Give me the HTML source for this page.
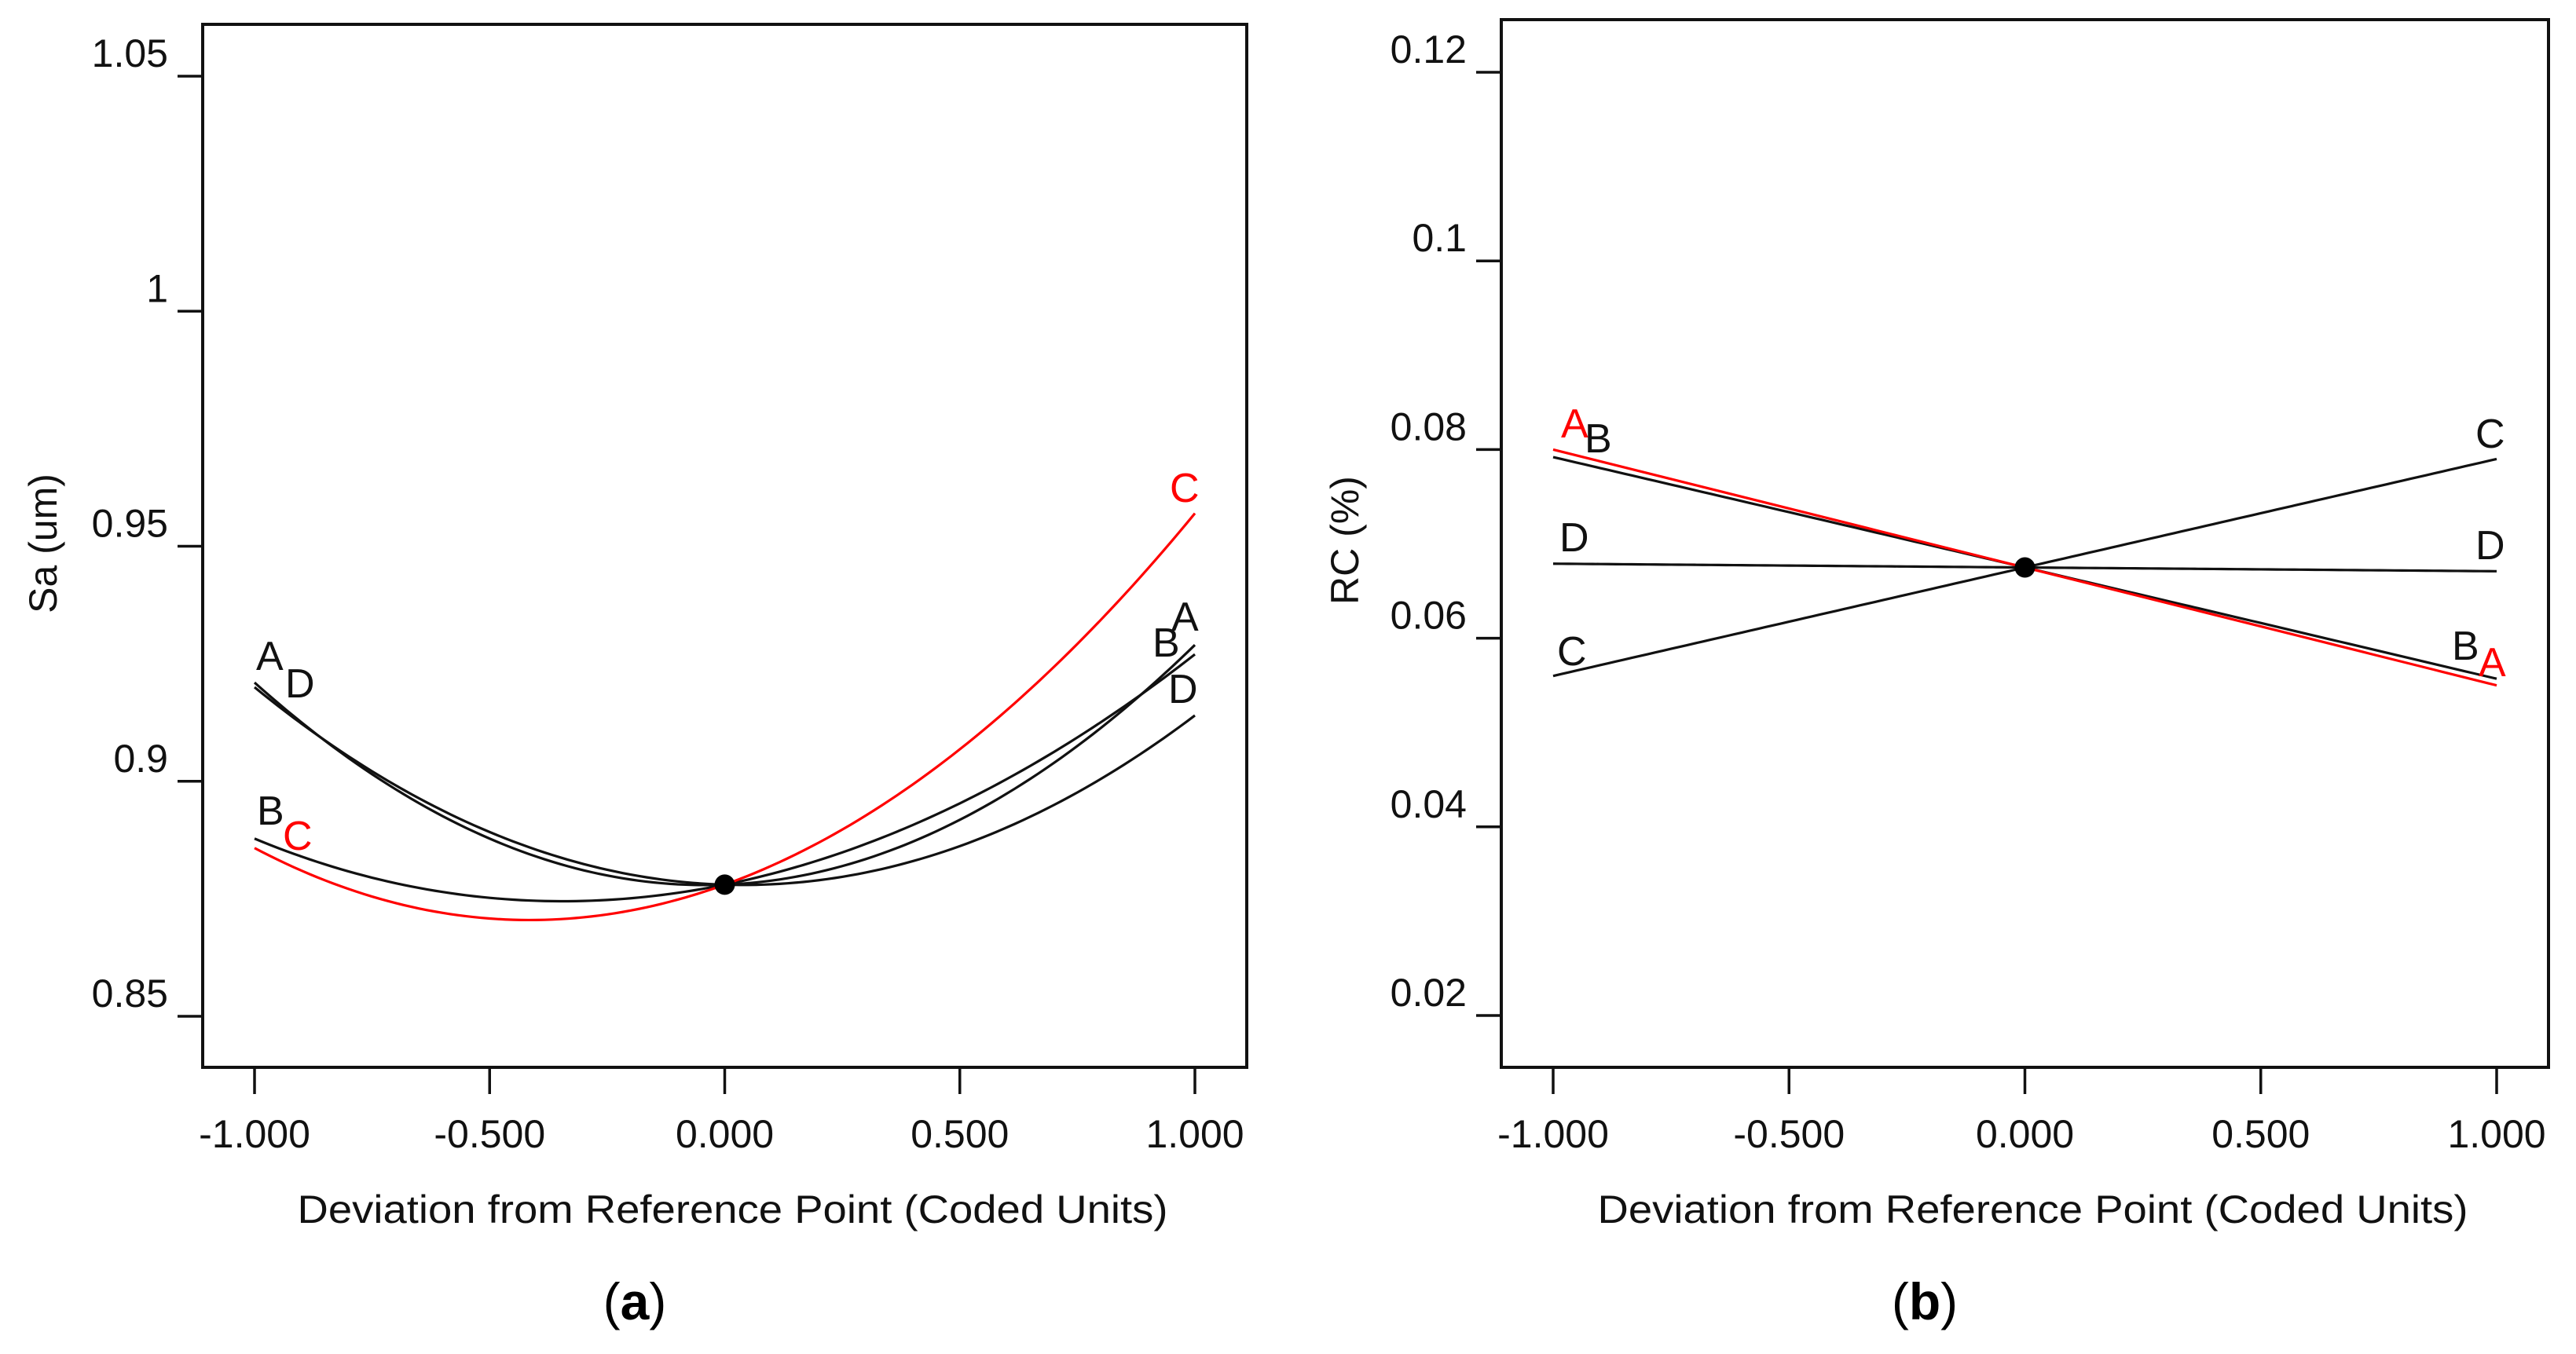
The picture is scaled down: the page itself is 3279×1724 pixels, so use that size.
<!DOCTYPE html>
<html><head><meta charset="utf-8"><style>
html,body{margin:0;padding:0;background:#fff;}
svg{display:block;}
text{font-family:"Liberation Sans",sans-serif;}
</style></head><body>
<svg id="fig" width="3279" height="1724" viewBox="0 0 3279 1724" xmlns="http://www.w3.org/2000/svg">
<g id="pa"></g>
<g id="pb"></g>
</svg>
<script>
// ---- Panel (a) data ----
const xsA = [-1, -0.5, 0, 0.5, 1];
const sa_A = [0.921, 0.8878, 0.878, 0.8918, 0.929];
const sa_B = [0.8878, 0.8752, 0.878, 0.8953, 0.927];
const sa_C = [0.8858, 0.8708, 0.878, 0.9068, 0.957];
const sa_D = [0.9200, 0.8892, 0.878, 0.8862, 0.914];
const yTicksA = [0.85, 0.9, 0.95, 1, 1.05];
const yTickLabelsA = ["0.85", "0.9", "0.95", "1", "1.05"];
const xTicks = [-1, -0.5, 0, 0.5, 1];
const xTickLabels = ["-1.000", "-0.500", "0.000", "0.500", "1.000"];
const refA = 0.878;
// ---- Panel (b) data ----
const xsB = [-1, 0, 1];
const rc_A = [0.0800, 0.0675, 0.0550];
const rc_B = [0.0792, 0.0675, 0.0557];
const rc_C = [0.0560, 0.0675, 0.0790];
const rc_D = [0.0679, 0.0675, 0.0671];
const yTicksB = [0.02, 0.04, 0.06, 0.08, 0.1, 0.12];
const yTickLabelsB = ["0.02", "0.04", "0.06", "0.08", "0.1", "0.12"];
const refB = 0.0675;

const NS = "http://www.w3.org/2000/svg";
function mk(parent, tag, attrs, txt) {
  const e = document.createElementNS(NS, tag);
  for (const k in attrs) e.setAttribute(k, attrs[k]);
  if (txt !== undefined) e.textContent = txt;
  parent.appendChild(e);
  return e;
}
// Smooth curve through the data points (Lagrange interpolation, densely sampled)
function interpPath(xs, vals, sx, sy) {
  const n = xs.length;
  const f = x => {
    let s = 0;
    for (let i = 0; i < n; i++) {
      let w = 1;
      for (let j = 0; j < n; j++) if (j !== i) w *= (x - xs[j]) / (xs[i] - xs[j]);
      s += w * vals[i];
    }
    return s;
  };
  const lo = xs[0], hi = xs[n - 1], steps = 120;
  let d = "";
  for (let k = 0; k <= steps; k++) {
    const x = lo + (hi - lo) * k / steps;
    d += (k ? " L" : "M") + sx(x).toFixed(2) + "," + sy(f(x)).toFixed(2);
  }
  return d;
}

function drawPanel(g, cfg) {
  const sx = v => cfg.x0 + (v + 1) / 2 * (cfg.x1 - cfg.x0);
  const sy = v => cfg.yb + (v - cfg.vb) / (cfg.vt - cfg.vb) * (cfg.yt - cfg.yb);
  const box = mk(g, "rect", {x: cfg.L, y: cfg.T, width: cfg.R - cfg.L, height: cfg.B - cfg.T, fill: "none", stroke: "#111", "stroke-width": 4});
  
  
  cfg.yTicks.forEach((v, i) => {
    const y = sy(v);
    const t = mk(g, "line", {x1: cfg.L - 32, x2: cfg.L, y1: y, y2: y, stroke: "#111", "stroke-width": 3.5});
    
    
    const l = mk(g, "text", {x: cfg.L - 44, y: y - 12, "text-anchor": "end", "font-size": 50, fill: "#111"}, cfg.yLabels[i]);
    
    
  });
  xTicks.forEach((v, i) => {
    const x = sx(v);
    const t = mk(g, "line", {x1: x, x2: x, y1: cfg.B, y2: cfg.B + 34, stroke: "#111", "stroke-width": 3.5});
    
    
    const l = mk(g, "text", {x: x, y: 1461, "text-anchor": "middle", "font-size": 50, fill: "#111"}, xTickLabels[i]);
    
    
  });
  const xt = mk(g, "text", {x: (cfg.L + cfg.R) / 2 + 10, y: 1557, "text-anchor": "middle", "font-size": 50, fill: "#111", textLength: 1108, lengthAdjust: "spacingAndGlyphs"}, "Deviation from Reference Point (Coded Units)");
  
  
  const yt = mk(g, "text", {x: 0, y: 0, "text-anchor": "middle", "font-size": 50, fill: "#111", transform: "translate(" + cfg.ytx + "," + cfg.yty + ") rotate(-90)"}, cfg.yTitle);
  
  
  cfg.series.forEach(s => {
    const p = mk(g, "path", {d: interpPath(cfg.xs, s.vals, sx, sy), fill: "none", stroke: s.color, "stroke-width": 3.2, "stroke-linejoin": "round"});
    
    
  });
  cfg.labels.forEach(lb => {
    const t = mk(g, "text", {x: lb[1], y: lb[2], "font-size": 52, fill: lb[3]}, lb[0]);
    
    
  });
  const dot = mk(g, "circle", {cx: sx(0), cy: sy(cfg.ref), r: 13, fill: "#000"});
  
  
  const cap = mk(g, "text", {x: cfg.capX, y: 1680, "text-anchor": "middle", "font-size": 66, fill: "#000", "font-family": "Liberation Serif, serif"});
  
  
  mk(cap, "tspan", {}, "(");
  mk(cap, "tspan", {"font-weight": "bold"}, cfg.cap);
  mk(cap, "tspan", {}, ")");
}

drawPanel(document.getElementById("pa"), {
  L: 258, T: 31, R: 1587, B: 1359, x0: 324, x1: 1521, yb: 1294, vb: 0.85, yt: 97, vt: 1.05,
  yTicks: yTicksA, yLabels: yTickLabelsA, xs: xsA, ref: refA, yTitle: "Sa (um)", ytx: 72, yty: 692,
  series: [
    {name: "curve-a", vals: sa_A, color: "#111"},
    {name: "curve-d", vals: sa_D, color: "#111"},
    {name: "curve-b", vals: sa_B, color: "#111"},
    {name: "curve-c", vals: sa_C, color: "#f00"}
  ],
  labels: [["A", 326, 853, "#111"], ["D", 363, 888, "#111"], ["B", 327, 1050, "#111"], ["C", 360, 1082, "#f00"],
           ["C", 1489, 639, "#f00"], ["A", 1491, 803, "#111"], ["B", 1467, 836, "#111"], ["D", 1487, 895, "#111"]],
  capX: 808, cap: "a"
});
drawPanel(document.getElementById("pb"), {
  L: 1911, T: 25, R: 3244, B: 1359, x0: 1977, x1: 3178, yb: 1293, vb: 0.02, yt: 92, vt: 0.12,
  yTicks: yTicksB, yLabels: yTickLabelsB, xs: xsB, ref: refB, yTitle: "RC (%)", ytx: 1729, yty: 688,
  series: [
    {name: "line-b", vals: rc_B, color: "#111"},
    {name: "line-c", vals: rc_C, color: "#111"},
    {name: "line-d", vals: rc_D, color: "#111"},
    {name: "line-a", vals: rc_A, color: "#f00"}
  ],
  labels: [["A", 1987, 557, "#f00"], ["B", 2017, 576, "#111"], ["D", 1985, 702, "#111"], ["C", 1982, 847, "#111"],
           ["C", 3151, 570, "#111"], ["D", 3151, 712, "#111"], ["B", 3121, 840, "#111"], ["A", 3155, 861, "#f00"]],
  capX: 2450, cap: "b"
});
</script>
</body></html>
